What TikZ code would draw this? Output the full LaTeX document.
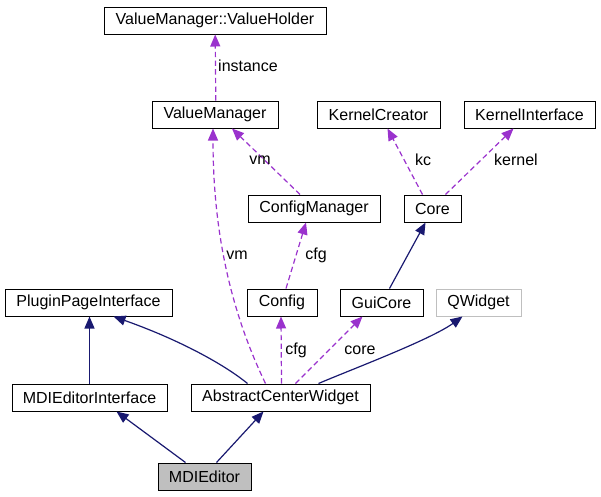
\documentclass[tikz,border=0pt]{standalone}
\usepackage{fontspec}
\setmainfont{Liberation Sans}
\usetikzlibrary{arrows.meta,calc}
\definecolor{navy}{HTML}{191970}
\definecolor{orchid}{HTML}{9A32CD}
\definecolor{lgray}{HTML}{BFBFBF}
\tikzset{
  box/.style={draw=black, line width=0.75pt, rectangle, inner sep=0pt, minimum height=20.25pt, font=\fontsize{12pt}{14pt}\selectfont, text=black},
  inh/.style={draw=navy, line width=0.9pt, -{Triangle[length=9pt,width=7.5pt]}, color=navy},
  use/.style={draw=orchid, line width=0.9pt, dash pattern=on 4pt off 2.5pt, -{Triangle[length=9pt,width=7.5pt]}, color=orchid},
  lbl/.style={inner sep=0pt, font=\fontsize{12pt}{14pt}\selectfont, text=black}
}
\begin{document}
\begin{tikzpicture}[x=0.75pt,y=-0.75pt]
\useasboundingbox (0,0) rectangle (601,497);
% nodes
\node[box, minimum width=166.5pt] (vh) at (215,20.5) {ValueManager::ValueHolder};
\node[box, minimum width=94.5pt] (vm) at (215,114.5) {ValueManager};
\node[box, minimum width=92.25pt] (kc) at (378.5,114.5) {KernelCreator};
\node[box, minimum width=98.25pt] (ki) at (529.5,114.5) {KernelInterface};
\node[box, minimum width=99pt] (cm) at (314,208.5) {ConfigManager};
\node[box, minimum width=42.75pt] (core) at (432.5,208.5) {Core};
\node[box, minimum width=125.25pt] (ppi) at (88.5,302.5) {PluginPageInterface};
\node[box, minimum width=52.5pt] (cfg) at (282,302.5) {Config};
\node[box, minimum width=62.25pt] (gui) at (381.5,302.5) {GuiCore};
\node[box, draw=lgray, minimum width=63.75pt] (qw) at (478.5,302.5) {QWidget};
\node[box, minimum width=116.25pt] (mei) at (89.5,397.5) {MDIEditorInterface};
\node[box, minimum width=134.25pt] (acw) at (280.5,397.5) {AbstractCenterWidget};
\node[box, fill=lgray, minimum width=69.75pt] (mdi) at (204.5,476.5) {MDIEditor};
% edges
\draw[use] ($(vm.north)+(0.8,0)$) -- ($(vh.south)+(0.2,0)$);
\draw[use] ($(cm.north)+(-14,0)$) -- ($(vm.south)+(17,0)$);
\draw[use] ($(core.north)+(-10,0)$) -- ($(kc.south)+(9,0)$);
\draw[use] ($(core.north)+(13,0)$) -- ($(ki.south)+(-16,0)$);
\draw[use] ($(acw.north)+(-15,0)$) .. controls (230,310) and (213,230) .. ($(vm.south)+(-2,0)$);
\draw[use] ($(cfg.north)+(4,0)$) -- ($(cm.south)+(-8,0)$);
\draw[inh] ($(gui.north)+(8,0)$) -- ($(core.south)+(-7,0)$);
\draw[use] ($(acw.north)+(1,0)$) -- ($(cfg.south)+(-1,0)$);
\draw[use] ($(acw.north)+(15,0)$) -- ($(gui.south)+(-19,0)$);
\draw[inh] ($(acw.north)+(-33,0)$) .. controls (225,365) and (180,340) .. ($(ppi.south)+(25,0)$);
\draw[inh] ($(acw.north)+(38,0)$) .. controls (350,370) and (430,340) .. ($(qw.south)+(-16,0)$);
\draw[inh] (mei.north) -- ($(ppi.south)+(1,0)$);
\draw[inh] ($(mdi.north)+(-19,0)$) -- ($(mei.south)+(27,0)$);
\draw[inh] ($(mdi.north)+(12,0)$) -- ($(acw.south)+(-17,0)$);
% labels
\node[lbl] (l1) at (248,66) {instance};
\node[lbl] (l2) at (260,160) {vm};
\node[lbl] (l3) at (423,160) {kc};
\node[lbl] (l4) at (516,160) {kernel};
\node[lbl] (l5) at (237,255) {vm};
\node[lbl] (l6) at (316,255) {cfg};
\node[lbl] (l7) at (296,350) {cfg};
\node[lbl] (l8) at (360,350) {core};
\end{tikzpicture}
\end{document}
